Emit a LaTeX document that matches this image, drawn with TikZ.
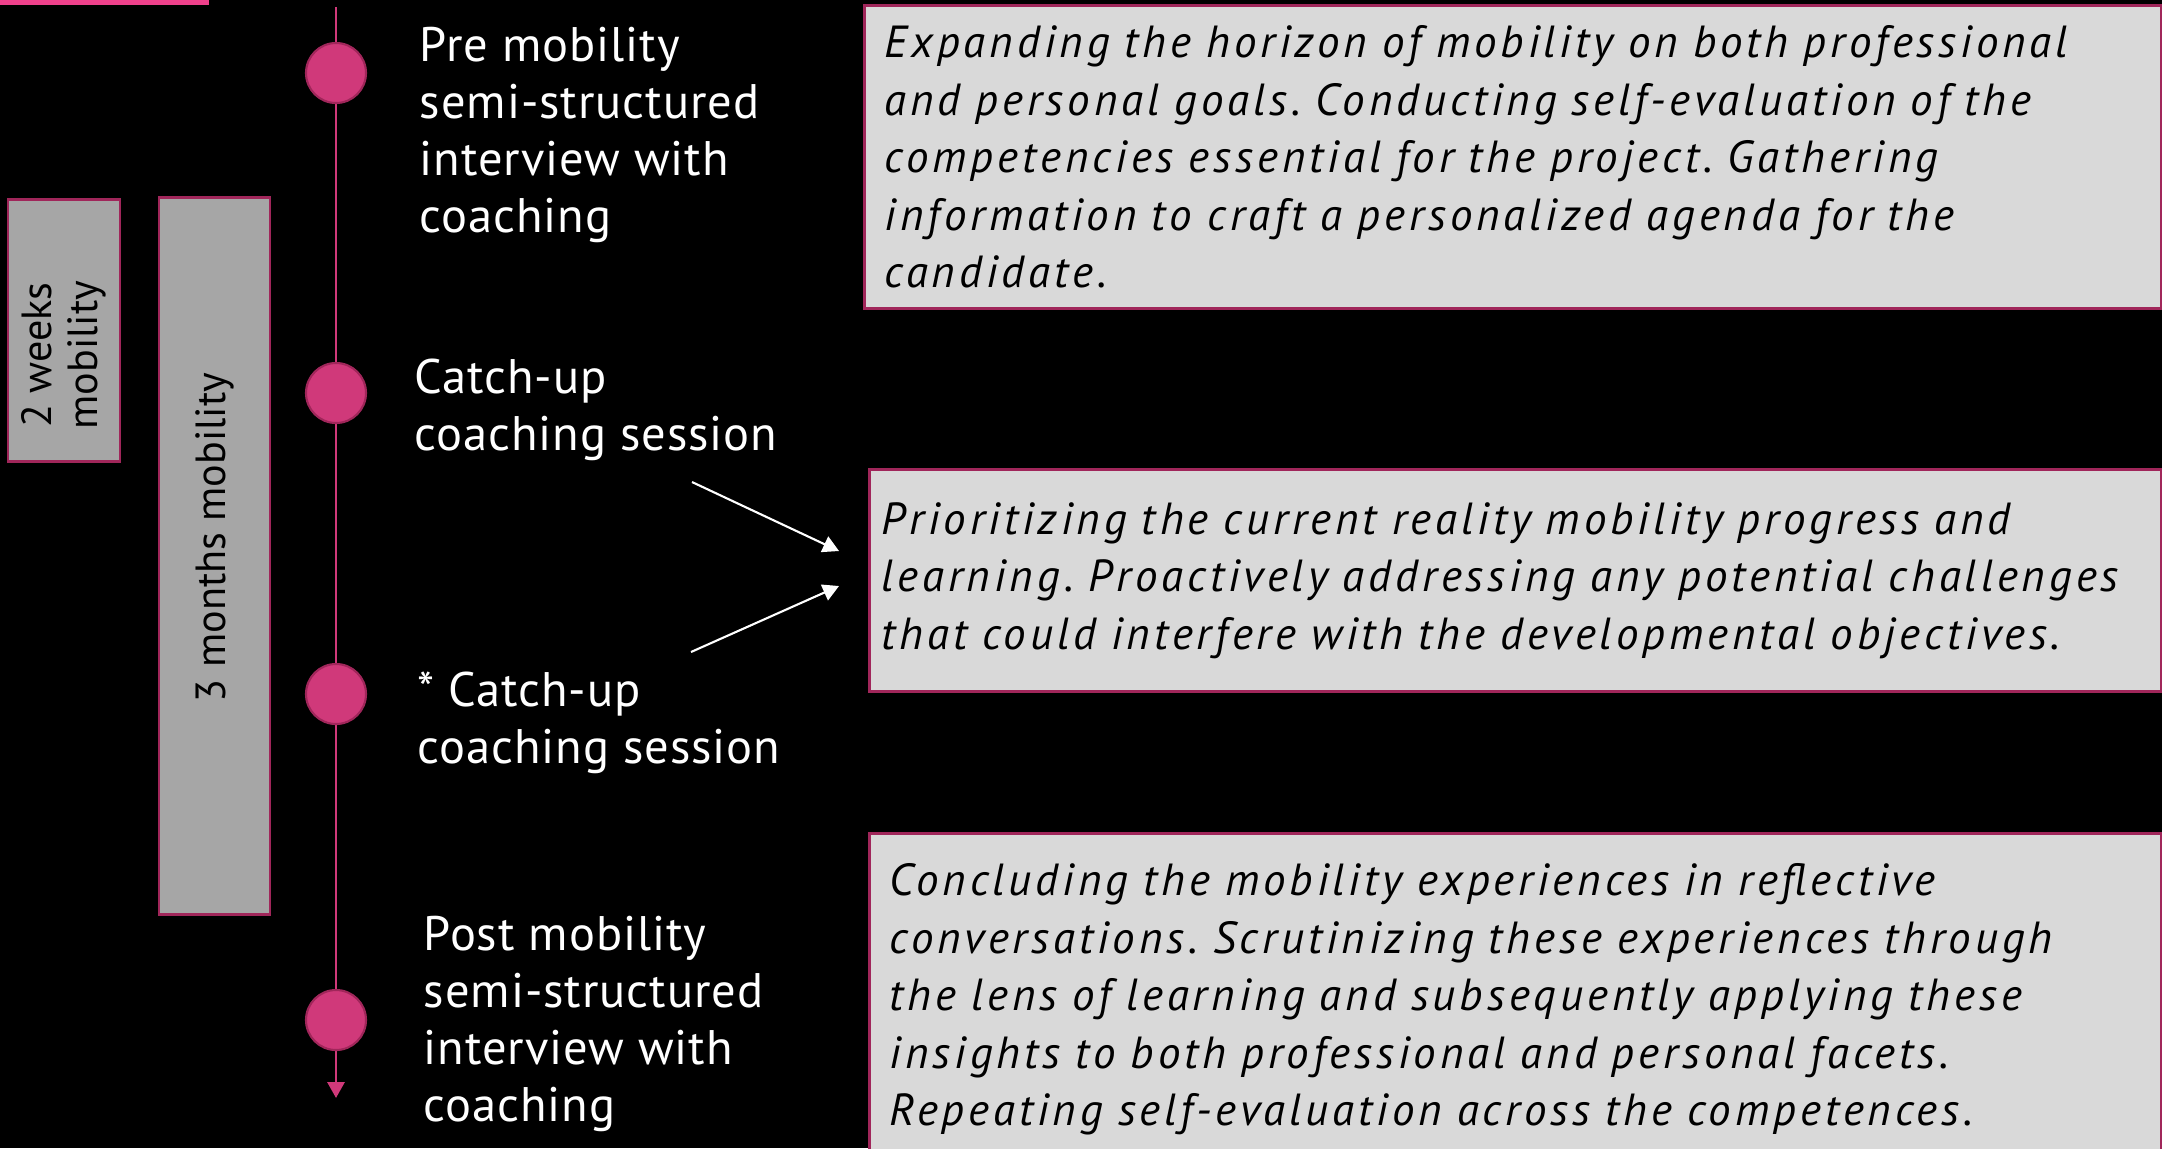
\documentclass[tikz,border=0pt]{standalone}
\usepackage{fontspec}
\setmainfont{PT Sans}
\newfontfamily\phasefont{PT Sans}[LetterSpace=2]
\newfontfamily\notefont{PT Sans}[LetterSpace=8.8,WordSpace=1.75]
\usetikzlibrary{arrows.meta}
\frenchspacing

\definecolor{barpink}{RGB}{240,65,140}
\definecolor{dotpink}{RGB}{208,57,122}
\definecolor{rimpink}{RGB}{160,38,90}
\definecolor{spangray}{RGB}{166,166,166}
\definecolor{notegray}{RGB}{217,217,217}

\begin{document}
\begin{tikzpicture}[>={Triangle[width=1.7mm,length=1.6mm]},line join=miter]
  \tikzstyle{stage}=[circle,fill=dotpink,draw=rimpink,line width=0.6pt,minimum size=0.6cm,inner sep=0pt]
  \tikzstyle{phase}=[text=white,font=\phasefont\fontsize{13.8}{16.2}\selectfont,align=left,inner sep=0pt,anchor=base west]
  \tikzstyle{note}=[draw=rimpink,line width=0.85pt,fill=notegray,anchor=north west,align=left,
                    font=\notefont\itshape\fontsize{12.8}{16.36}\selectfont]
  \tikzstyle{span}=[draw=rimpink,line width=0.85pt,fill=spangray,rotate=90,align=center,inner sep=0pt,
                    font=\fontsize{12}{13}\selectfont]

  % black page and the pink strip in the corner
  \fill[black] (0,0) rectangle (21.62,-11.48);
  \useasboundingbox (0,0) rectangle (21.62,-11.48);
  \fill[barpink] (0,0) rectangle (2.09,-0.05);

  % how long each mobility lasts
  \node[span,minimum width=2.62cm,minimum height=1.12cm] (weeks) at (0.64,-3.30)
    {2 weeks\hspace*{0.5cm}\\mobility\hspace*{0.5cm}};
  \node[span,minimum width=7.17cm,minimum height=1.11cm] (months) at (2.145,-5.555)
    {\hspace*{0.36cm}3 months mobility};

  % time line with its four stages
  \coordinate (start) at (3.36,-0.07);
  \coordinate (stop) at (3.36,-10.98);
  \draw[->,dotpink,line width=0.85pt] (start) -- (stop);

  \node[stage] (pre)   at (3.36,-0.73)  {};
  \node[stage] (catch) at (3.36,-3.93)  {};
  \node[stage] (extra) at (3.36,-6.94)  {};
  \node[stage] (post)  at (3.36,-10.20) {};

  \node[phase] (pretext)   at (4.19,-2.32)  {Pre mobility\\semi-structured\\interview with\\coaching};
  \node[phase] (catchtext) at (4.14,-4.50)  {Catch-up\\coaching session};
  \node[phase] (extratext) at (4.17,-7.63)  {* Catch-up\\coaching session};
  \node[phase] (posttext)  at (4.23,-11.21) {Post mobility\\semi-structured\\interview with\\coaching};

  % what happens at each stage
  \node[note,minimum width=12.97cm,minimum height=3.03cm,text width=12.57cm,inner xsep=0.2cm] (prenote) at (8.63,-0.04)
    {Expanding the horizon of mobility on both professional\\
     and personal goals. Conducting self-evaluation of the\\
     competencies essential for the project. Gathering\\
     information to craft a personalized agenda for the\\
     candidate.};
  \node[note,minimum width=12.92cm,minimum height=2.22cm,text width=12.68cm,inner xsep=0.12cm] (catchnote) at (8.68,-4.68)
    {Prioritizing the current reality mobility progress and\\
     learning. Proactively addressing any potential challenges\\
     that could interfere with the developmental objectives.};
  \node[note,minimum width=12.92cm,minimum height=3.32cm,text width=12.52cm,inner xsep=0.2cm] (postnote) at (8.68,-8.32)
    {Concluding the mobility experiences in reflective\\
     conversations. Scrutinizing these experiences through\\
     the lens of learning and subsequently applying these\\
     insights to both professional and personal facets.\\
     Repeating self-evaluation across the competences.};

  % both catch-up sessions point to the same note
  \coordinate (from1) at (6.92,-4.82);
  \coordinate (tip1)  at (8.39,-5.51);
  \coordinate (from2) at (6.91,-6.52);
  \coordinate (tip2)  at (8.39,-5.86);
  \draw[->,white,line width=0.6pt] (from1) -- (tip1);
  \draw[->,white,line width=0.6pt] (from2) -- (tip2);
\end{tikzpicture}
\end{document}
